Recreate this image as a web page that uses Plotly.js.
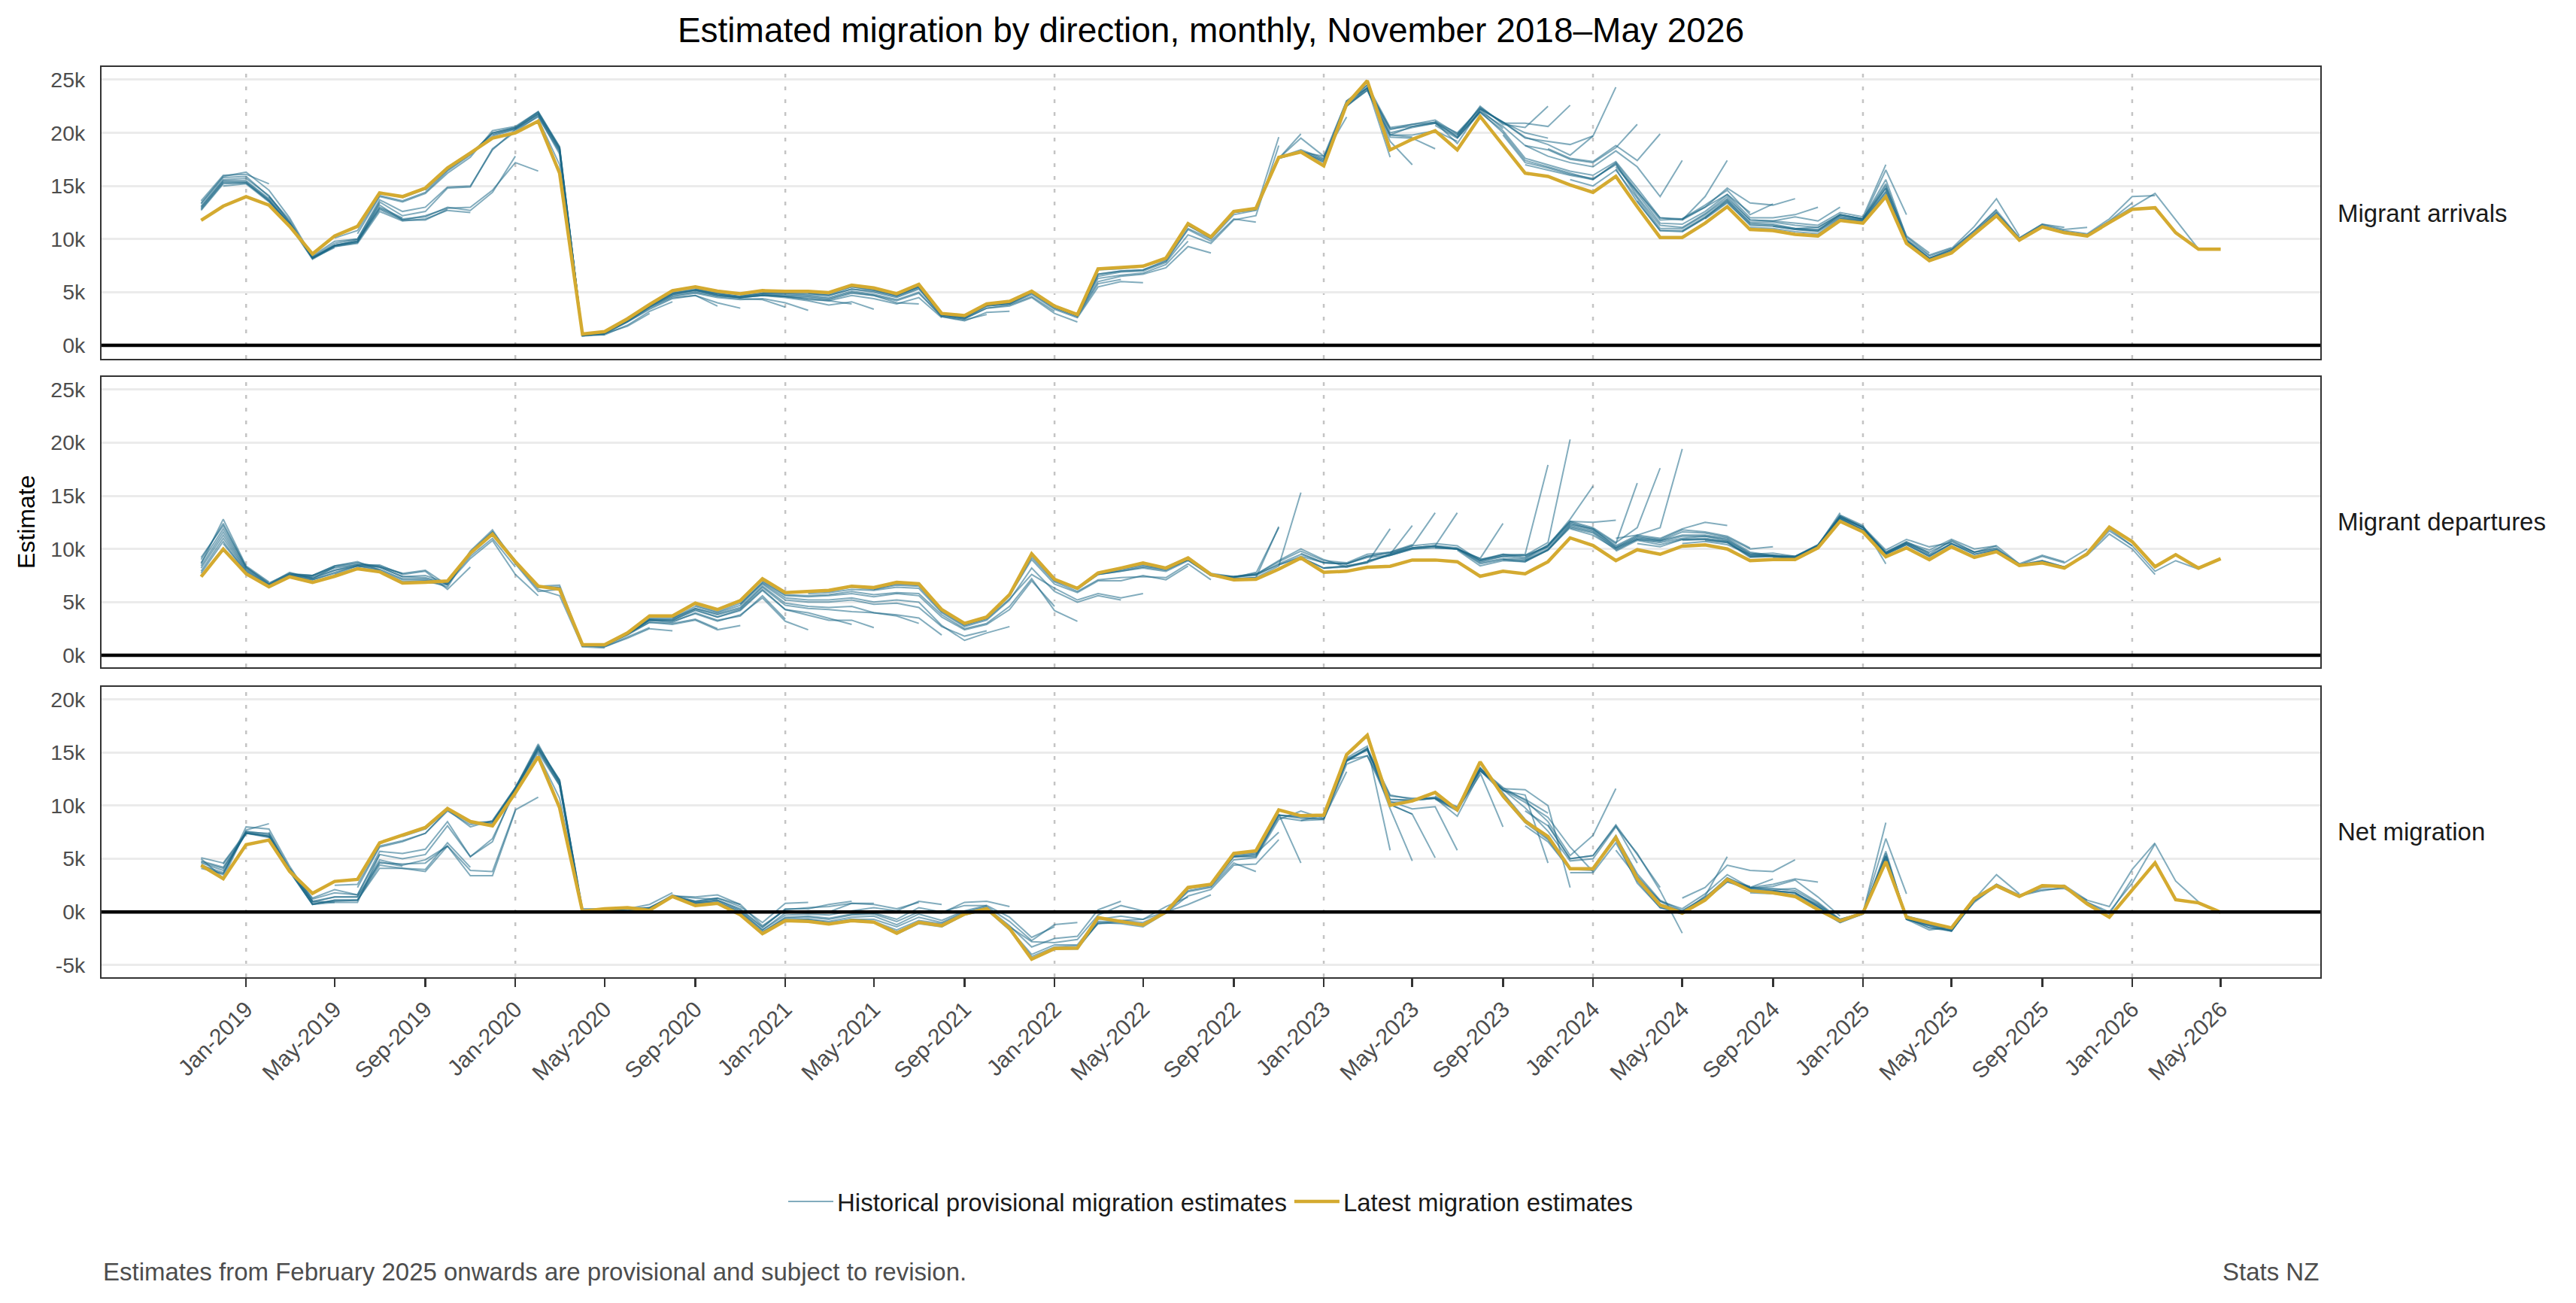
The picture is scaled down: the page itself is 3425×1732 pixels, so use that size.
<!DOCTYPE html>
<html>
<head>
<meta charset="utf-8">
<script src="https://cdn.plot.ly/plotly-3.0.1.min.js"></script>
<style>html,body{margin:0;padding:0;background:#ffffff;}</style>
</head>
<body>
<div id="chart" style="width:3425px;height:1732px;"></div>
<script>
// Monthly series start in November 2018 (index 0) and run to May 2026 (index 90).
const firstMonth = [2018, 11];

// Latest migration estimates (persons per month)
const arrivalsLatest = [
  11760, 13100, 14000, 13200, 11200, 8600, 10300, 11200, 14350, 14000,
  14800, 16700, 18100, 19500, 20000, 21100, 16200, 1060, 1300, 2500,
  3850, 5150, 5500, 5100, 4860, 5150, 5080, 5080, 4960, 5670,
  5400, 4860, 5740, 3000, 2800, 3900, 4150, 5100, 3700, 2900,
  7200, 7300, 7450, 8200, 11450, 10200, 12600, 12900, 17700, 18200,
  16900, 22700, 24900, 18400, 19400, 20200, 18400, 21550, 18800, 16200,
  15900, 15100, 14400, 15900, 13050, 10150, 10150, 11500, 13050, 10900,
  10800, 10450, 10300, 11750, 11500, 14000, 9600, 7970, 8700, 10450,
  12200, 9900, 11150, 10600, 10300, 11550, 12800, 12950, 10600, 9050,
  9050
];
const departuresLatest = [
  7380, 9980, 7670, 6440, 7380, 6860, 7430, 8140, 7850, 6800,
  6860, 6980, 9600, 11400, 8800, 6500, 6200, 1000, 1000, 2100,
  3700, 3700, 4900, 4300, 5140, 7200, 5900, 5970, 6100, 6500,
  6370, 6860, 6720, 4300, 3000, 3600, 5700, 9550, 7150, 6300,
  7740, 8200, 8680, 8200, 9150, 7600, 7100, 7150, 8100, 9150,
  7800, 7900, 8280, 8370, 8960, 8960, 8800, 7430, 7900, 7670,
  8800, 11040, 10330, 8900, 9930, 9500, 10260, 10380, 10000, 8900,
  9000, 9000, 10100, 12600, 11600, 9270, 10100, 9000, 10200, 9200,
  9740, 8440, 8680, 8200, 9550, 12050, 10680, 8330, 9460, 8200,
  9080
];
const netLatest = [
  4380, 3120, 6330, 6760, 3820, 1740, 2870, 3060, 6500, 7200,
  7940, 9720, 8500, 8100, 11200, 14600, 9800, 60, 300, 400,
  150, 1450, 600, 800, -280, -2050, -820, -890, -1140, -830,
  -970, -2000, -980, -1300, -200, 300, -1550, -4450, -3450, -3400,
  -540, -900, -1230, 0, 2300, 2600, 5500, 5750, 9600, 9050,
  9100, 14800, 16620, 10030, 10440, 11240, 9600, 14120, 10900, 8530,
  7100, 4060, 4070, 7000, 3120, 650, -110, 1120, 3050, 2000,
  1800, 1450, 200, -850, -100, 4730, -500, -1030, -1500, 1250,
  2460, 1460, 2470, 2400, 750, -500, 2120, 4620, 1140, 850,
  -30
];

// Historical provisional releases: month index of each release's first value
const vintageStart = [
  0, 0, 0, 0, 1, 4, 7, 10, 13, 16, 19, 22, 25, 28, 31,
  34, 37, 40, 43, 46, 49, 52, 55, 58, 61, 64, 67, 70, 73, 76,
  43, 44, 48, 49, 50, 51, 53, 55, 56, 57, 59, 60, 63, 66, 71,
  0, 0, 0, 0, 3, 6, 9, 12, 15, 18, 21, 24, 27, 30, 33,
  56, 59, 63, 66, 69, 72
];
const arrivalsHistorical = [
  [13600,16000,16100,15200],
  [13300,15800,15900,14000,11800,8200,9200],
  [13000,15500,15500,13800,11500,8300,9400,9800,13000,12000],
  [12700,15200,15300,13600,11300,8100,9300,9600,12600,11700,11900,12700,12500],
  [15000,15200,13500,11400,8200,9400,9900,13200,11800,12200,12900,13000,14600,17200,16400],
  [11500,8400,9800,10000,13700,12600,13000,14900,15000,18400,20300,21800,18300,1100,1000],
  [10500,14000,13500,14300,16200,17700,20200,20600,22000,18700,900,1000,1900,3200,4100],
  [14600,16500,18000,20000,20500,21900,18600,900,1100,2200,3400,4400,4700,4000,3500],
  [19800,20400,21800,18500,950,1150,2300,3600,4600,4900,4500,4300,4400,4000,3300],
  [18300,1000,1200,2300,3700,4800,5100,4700,4500,4700,4500,4200,3800,4100,3400],
  [2400,3800,4900,5200,4800,4500,4800,4600,4400,4200,4700,4400,3900,4500,2600],
  [5300,4900,4600,4900,4800,4700,4500,5100,4800,4300,5000,2700,2300,3100,3200],
  [5000,4900,4900,4700,5300,5000,4500,5300,2800,2500,3500,3700,4500,3000,2200],
  [4900,5500,5200,4700,5500,2900,2600,3700,3900,4800,3400,2600,5500,6000,5900],
  [4700,5600,2900,2700,3800,4000,5000,3600,2800,6000,6500,6700,7300,9300,8700],
  [2800,3800,4100,5000,3700,2900,6500,6900,7000,7800,10400,9600,11800,12200,18800],
  [5000,3600,2800,6700,7000,7100,8000,11000,10000,12300,12700,17600,19500,17800,21500],
  [7100,7200,7400,8100,11300,10100,12500,12800,17600,18200,17400,22500,24000,19800,19600],
  [8200,11400,10200,12600,12900,17700,18300,17500,22800,24500,20000,20500,20900,19600,22000],
  [12600,12900,17700,18400,17600,23000,24200,20300,20800,21200,19900,22200,21000,20000,19500],
  [18200,17800,23000,24500,20500,20800,21000,20000,22300,21000,19600,18900,17900,19700,24300],
  [24300,20400,20600,20900,19800,22000,20600,18800,17800,17200,16800,18300,16800,14000,17400],
  [20700,19500,21900,20200,17600,17000,16400,16000,17300,14800,12000,11900,13000,14200,12500],
  [19800,17200,16700,16100,15700,17000,14300,11500,11400,12600,14200,12000,12000,12300,13000],
  [15600,15000,16500,13800,11000,11000,12300,13800,11800,11700,11500,11300,12500,12100,17000],
  [13600,10800,10800,12100,13600,11600,11600,11300,11100,12300,11900,15600,10200,8500,9200],
  [11900,13400,11400,11300,11000,10900,12200,11900,15200,10000,8400,9100,11200,13800,10300],
  [11200,10900,10700,12000,11800,14800,9900,8200,9000,10800,12700,10100,11400,10900,11100],
  [11900,11700,14500,9800,8100,8800,10600,12500,10000,11300,10800,10500,11900,14000,14100],
  [9700,8100,8800,10500,12300,10000,11200,10700,10400,11700,13000,14300,11800,9050],
  [8300,11300,10100,12500,12800,19600],
  [11300,10200,12600,12900,17600,19900],
  [17600,18200,17200,22800,24300,17700],
  [18200,17300,22700,24200,19200,17000],
  [17200,22600,24000,19600,19500,18500],
  [22500,24200,19800,19800,20200,19200],
  [19800,20600,21000,19000,22200,20400],
  [21100,19600,22500,20800,20500,22500],
  [19800,22400,20900,20900,20600,22600],
  [22300,21000,19500,19200,18900,19700],
  [18800,18400,17500,17200,18600,20800],
  [18500,17600,17300,18800,17400,19900],
  [16800,14500,12000,11800,14000,17400],
  [11800,13000,14800,13400,13200,13800],
  [11000,11100,12300,11900,16500,12300],
  [13400,15900,16300,14600,12000,8300],
  [13100,15600,15700,14100,11600,8200,9300,9700,13400],
  [12900,15400,15400,13700,11400,8200,9400,9700,12800,11800,11800,12800],
  [12800,15300,15300,13600,11400,8200,9400,9800,12900,11900,12100,13000,12700,14400,17800],
  [14000,11600,8300,9600,10000,13500,12200,12600,14800,14900,18500,20100,21600,18000,1000],
  [10100,10800,14100,13600,14400,16400,17900,20000,20500,22000,18600,950,1100,1800,3000],
  [13900,14700,16600,18000,19900,20400,21700,18400,900,1100,2200,3500,4500,4700,3700],
  [18000,19700,20300,21500,18200,950,1200,2300,3600,4700,5000,4600,4400,4300,3600],
  [21300,17000,1000,1200,2400,3700,4800,5200,4700,4500,4700,4600,4300,4200,3900],
  [1200,2400,3700,4900,5200,4800,4500,4700,4600,4500,4300,4900,4700,4000,3900],
  [5000,5300,4900,4600,4800,4700,4600,4400,5000,4700,4200,4900,2700,2400,2900],
  [4700,4900,4900,4800,4700,5300,5100,4600,5400,2800,2500,3500,3800,4600,3200],
  [4900,4800,5500,5200,4700,5500,2900,2600,3700,3900,4900,3500,2700,5800,6200],
  [5300,4800,5600,2900,2700,3800,4000,5000,3600,2800,6300,6600,6800,7600,9800],
  [2900,2700,3800,4000,5000,3600,2800,6700,7000,7100,7900,10900,9800,11900,11600],
  [19500,22000,20000,17400,16800,16200,15600,17200,14500,11800,11900,13200,14600,12300,13300],
  [17000,16500,16000,15600,17100,14000,11300,11100,12400,14000,11800,11700,12100,11700,13000],
  [16600,13500,10800,10700,12000,13700,11500,11400,11000,10800,12300,11900,15000,10300,8700],
  [10700,12000,13500,11300,11200,10900,10800,12100,11800,14800,9900,8200,9000,10800,12800],
  [11100,11000,10700,10500,11900,11700,14400,9800,8200,8900,10600,12500,10100,11400,11100],
  [10400,11800,11600,14200,9700,8000,8700,10500,12300,9900,11200,10700,10400,11700,13400]
];
const departuresHistorical = [
  [8600,12800,8400,6900],
  [9200,12200,8300,6700,7800,7200,8300],
  [8400,11600,8100,6600,7600,7500,8400,8700,8300,7700],
  [7900,11000,7900,6500,7500,7400,8200,8500,8500,7600,7900,6200,8300],
  [10500,7800,6500,7500,7200,8000,8500,8300,7400,7300,6700,9100,10800,7600,5600],
  [7400,7100,7700,8400,8000,7100,7100,6400,9800,11800,8600,6000,6200,800,700],
  [8200,7900,6900,6900,6600,9700,11600,8900,6400,6300,900,800,1600,2500,2300],
  [6800,6900,9600,11500,8800,6500,6400,900,900,1900,3100,2900,3300,2400,2800],
  [11400,8900,6500,6600,950,950,2000,3300,3200,3900,3200,3800,5400,3200,2400],
  [6300,1000,950,2000,3300,3300,4200,3600,4200,6100,4300,3800,3300,3300,2600],
  [2100,3500,3500,4400,3900,4500,6500,4900,4600,4500,4600,4000,3800,3500,1900],
  [4700,4100,4900,6800,5400,5200,5200,5400,5000,5200,5000,2800,1400,2100,2700],
  [7000,5700,5600,5700,6000,5700,5900,5800,3800,2500,3000,4600,7200,4200,3200],
  [6000,6400,6200,6600,6500,4100,2800,3400,5300,7600,6300,5200,5800,5400,5800],
  [6800,6700,4300,2900,3500,5600,9200,6900,6000,7100,7300,7400,7300,8600,7100],
  [3000,3600,5700,9500,7100,6300,7600,7900,8200,7900,8900,7500,7400,7700,12000],
  [9500,7100,6300,7700,8100,8500,8100,9000,7600,7400,7600,8900,10000,9000,8300],
  [7600,8000,8400,8100,9000,7600,7300,7600,8500,9300,8700,8600,9300,9700,10400],
  [8300,9200,7700,7400,7500,8600,9500,8700,8600,9200,9400,10000,10200,10000,9100],
  [7400,7600,8800,9800,8900,8700,9500,9700,10300,10500,10300,8900,9500,9400,10200],
  [9600,8700,8600,9300,9600,10100,10300,10100,8800,9300,9100,10400,12600,12500,12700],
  [8900,9400,10000,10100,10000,8700,9100,9000,10200,12400,11800,10300,11300,12000,19400],
  [10100,10000,8600,9000,8900,10000,12300,11900,10200,11200,10900,11800,11600,11200,10100],
  [9000,8800,9900,12100,11600,10100,11000,10800,11300,11300,11000,9700,9400,9200,10200],
  [11900,11300,10000,10900,10600,11000,11200,10900,9500,9600,9300,10400,13200,12200,8600],
  [10500,10200,10900,11000,10700,9300,9400,9300,10300,13100,12100,9900,10900,10200,10600],
  [10800,10600,9200,9300,9200,10300,13000,12000,9700,10600,9900,10900,10000,10300,8600],
  [9200,9100,10200,12900,11800,9600,10500,9700,10700,9700,10100,8500,9300,8700,10000],
  [12800,11700,9500,10400,9300,10500,9500,9900,8500,8900,8300,9400,11400,10000,7600],
  [10100,9100,10300,9300,9800,8500,8800,8300,9500,11700,10300,7900,8900,8100],
  [8200,9000,7500,7200,7300,12100],
  [9100,7600,7200,7300,8400,15300],
  [8500,9200,8200,8300,8700,11900],
  [9200,8200,8400,8800,9500,12200],
  [8200,8400,8700,9500,10300,13400],
  [8300,8800,9400,10100,10300,13400],
  [9500,10100,10300,10000,9100,12400],
  [10200,10000,9000,9400,9500,17900],
  [10000,8900,9300,9400,10600,20300],
  [9000,9500,9200,10300,12800,15900],
  [9300,10300,12500,11900,10500,16200],
  [10300,12600,12000,10600,12000,17600],
  [11000,11300,11000,11900,12500,12200],
  [10500,10700,10400,9500,9400,8900],
  [9300,10400,13000,12000,9600,10600],
  [9000,12400,8300,6800,7700,7300],
  [8700,11900,8200,6700,7700,7500,8400,8800,8000],
  [8200,11300,8000,6600,7600,7500,8300,8600,8400,7700,8000,6600],
  [7700,10700,7800,6500,7500,7300,8000,8400,8300,7400,7500,6800,9300,11000,8300],
  [6500,7500,7100,7800,8400,8100,7200,7200,6700,9700,11600,8700,6200,5600,800],
  [7600,8200,7900,6900,7000,6900,9700,11500,8900,6400,6300,900,800,1700,2600],
  [6800,6900,6900,9600,11500,8800,6500,6300,900,900,2000,3100,3000,3400,2500],
  [9600,11400,8800,6500,6300,950,950,2000,3300,3100,4000,3300,3700,5600,3400],
  [6500,6300,1000,950,2000,3400,3300,4300,3600,4300,6200,4300,4000,3500,2900],
  [950,2000,3400,3400,4400,3800,4400,6400,4700,4400,4300,4100,4000,3700,3000],
  [3500,4600,4000,4700,6700,5200,5000,5000,5200,4800,4900,4500,2700,1800,2300],
  [4800,6900,5600,5500,5600,5800,5500,5800,5600,3600,2400,2900,4300,7000,4600],
  [5800,5900,6200,6100,6400,6300,4000,2700,3300,5200,8200,6000,5000,5600,5200],
  [6200,6700,6600,4200,2900,3500,5600,9000,6700,5900,7000,7000,7500,7100,8400],
  [4300,3000,3600,5700,9400,7000,6200,7600,7900,8300,8000,9000,7500,7300,7800],
  [9900,8400,8900,8800,9900,12200,11700,10100,11100,10800,11600,11500,11100,10000,10200],
  [8900,9900,12000,11500,9900,10900,10700,11200,11200,10800,9600,9300,9100,10300,13400],
  [9800,10800,10400,10900,10900,10700,9400,9400,9200,10300,13100,12000,9700,10700,9600],
  [10800,10900,10600,9300,9300,9300,10300,13000,12000,9600,10600,9500,10800,9700,10300],
  [9300,9300,9200,10200,12900,11800,9500,10500,9400,10500,9700,10000,8600,9400,8800],
  [10200,12800,11800,9500,10400,9300,10500,9500,9900,8500,8900,8300,9500,11900,10300]
];

// Panel labels and axis ticks
const panelNames = ['Migrant arrivals', 'Migrant departures', 'Net migration'];
const yTickValsUpper = [0, 5000, 10000, 15000, 20000, 25000];
const yTickTextUpper = ['0k', '5k', '10k', '15k', '20k', '25k'];
const yTickValsNet = [-5000, 0, 5000, 10000, 15000, 20000];
const yTickTextNet = ['-5k', '0k', '5k', '10k', '15k', '20k'];
const gridYears = [2019, 2020, 2021, 2022, 2023, 2024, 2025, 2026];

function monthDate(i) {
  const m = firstMonth[1] - 1 + i;
  const y = firstMonth[0] + Math.floor(m / 12);
  const mm = (m % 12) + 1;
  return y + '-' + String(mm).padStart(2, '0') + '-01';
}
const months = arrivalsLatest.map((_, i) => monthDate(i));

// x tick positions: every fourth month from January 2019 to May 2026
const xTicks = [];
for (let y = 2019; y <= 2026; y++) {
  for (const m of ['01', '05', '09']) {
    const d = y + '-' + m + '-01';
    if (d <= months[months.length - 1]) xTicks.push(d);
  }
}

const HIST_COLOR = 'rgba(27,104,134,0.55)';
const LATEST_COLOR = '#d4aa30';
const axesPairs = [['x', 'y'], ['x2', 'y2'], ['x3', 'y3']];

const traces = [];
// historical releases, all three panels
vintageStart.forEach((start, v) => {
  const arr = arrivalsHistorical[v];
  const dep = departuresHistorical[v];
  const xs = arr.map((_, k) => months[start + k]);
  const net = arr.map((a, k) => a - dep[k]);
  [arr, dep, net].forEach((ys, p) => {
    traces.push({
      type: 'scatter', mode: 'lines', x: xs, y: ys,
      xaxis: axesPairs[p][0], yaxis: axesPairs[p][1],
      line: {color: HIST_COLOR, width: 2},
      name: 'Historical provisional migration estimates',
      legendgroup: 'hist',
      showlegend: v === 0 && p === 0,
      hoverinfo: 'skip'
    });
  });
});
// latest estimates on top
[arrivalsLatest, departuresLatest, netLatest].forEach((ys, p) => {
  traces.push({
    type: 'scatter', mode: 'lines', x: months, y: ys,
    xaxis: axesPairs[p][0], yaxis: axesPairs[p][1],
    line: {color: LATEST_COLOR, width: 4.5},
    name: 'Latest migration estimates',
    legendgroup: 'latest',
    showlegend: p === 0,
    hoverinfo: 'skip'
  });
});

const W = 3425, H = 1732;
const plotLeft = 135, plotRight = 3085;
const panelPx = [[89, 477], [500.7, 887], [912.7, 1299]];
const yRanges = [[-1270, 26200], [-1130, 26200], [-6150, 21200]];
const xDomain = [plotLeft / W, plotRight / W];
const xRange = ['2018-06-19', '2026-09-13'];
const FONT = 'Liberation Sans, Arial, Helvetica, sans-serif';

const layout = {
  width: W, height: H,
  margin: {l: 0, r: 0, t: 0, b: 0},
  paper_bgcolor: '#ffffff', plot_bgcolor: '#ffffff',
  font: {family: FONT, color: '#1a1a1a'},
  title: {
    text: 'Estimated migration by direction, monthly, November 2018\u2013May 2026',
    x: (plotLeft + plotRight) / 2 / W, xanchor: 'center', xref: 'paper',
    y: 1 - 40 / H, yanchor: 'middle', yref: 'container',
    font: {family: FONT, size: 46, color: '#000000'}
  },
  showlegend: true,
  legend: {
    orientation: 'h', x: (plotLeft + plotRight) / 2 / W, xanchor: 'center',
    y: 1 - 1597 / H, yanchor: 'middle',
    font: {family: FONT, size: 33, color: '#1a1a1a'},
    bgcolor: 'rgba(0,0,0,0)', itemwidth: 60, traceorder: 'normal'
  },
  shapes: [],
  annotations: []
};

panelPx.forEach((px, p) => {
  const sfx = p === 0 ? '' : String(p + 1);
  const dom = [1 - px[1] / H, 1 - px[0] / H];
  const isBottom = p === 2;
  layout['xaxis' + sfx] = {
    type: 'date', range: xRange, domain: xDomain, anchor: 'y' + sfx,
    matches: p === 0 ? undefined : 'x',
    showgrid: false, zeroline: false,
    showline: true, mirror: true, linecolor: '#333333', linewidth: 2,
    tickmode: 'array', tickvals: xTicks, tickformat: '%b-%Y',
    showticklabels: isBottom,
    ticks: isBottom ? 'outside' : '', ticklen: 11, tickwidth: 2.5, tickcolor: '#333333',
    tickangle: -45,
    tickfont: {family: FONT, size: 30, color: '#4d4d4d'}
  };
  layout['yaxis' + sfx] = {
    domain: dom, range: yRanges[p], anchor: 'x' + sfx,
    tickmode: 'array',
    tickvals: isBottom ? yTickValsNet : yTickValsUpper,
    ticktext: isBottom ? yTickTextNet : yTickTextUpper,
    showgrid: true, gridcolor: '#ebebeb', gridwidth: 3,
    zeroline: false, showline: true, mirror: true, linecolor: '#333333', linewidth: 2,
    ticks: '', ticklabelstandoff: 14,
    tickfont: {family: FONT, size: 28.5, color: '#4d4d4d'}
  };
  // dotted January reference lines
  gridYears.forEach(yr => {
    layout.shapes.push({
      type: 'line', layer: 'below',
      xref: 'x' + sfx, yref: 'y' + sfx + ' domain',
      x0: yr + '-01-01', x1: yr + '-01-01', y0: 0, y1: 1,
      line: {color: '#c4c4c4', width: 2.5, dash: '5px,12px'}
    });
  });
  // zero line
  layout.shapes.push({
    type: 'line', layer: 'above',
    xref: 'x' + sfx + ' domain', yref: 'y' + sfx,
    x0: 0, x1: 1, y0: 0, y1: 0,
    line: {color: '#000000', width: 4.5}
  });
  // panel label on the right
  layout.annotations.push({
    text: panelNames[p], xref: 'paper', yref: 'paper',
    x: 3106 / W, xanchor: 'left', y: 1 - (px[0] + px[1]) / 2 / H, yanchor: 'middle',
    showarrow: false, font: {family: FONT, size: 33, color: '#1a1a1a'}
  });
});

layout.annotations.push({
  text: 'Estimate', textangle: -90, xref: 'paper', yref: 'paper',
  x: 35 / W, xanchor: 'center', y: 1 - 694 / H, yanchor: 'middle',
  showarrow: false, font: {family: FONT, size: 32, color: '#000000'}
});
layout.annotations.push({
  text: 'Estimates from February 2025 onwards are provisional and subject to revision.',
  xref: 'paper', yref: 'paper', x: plotLeft / W, xanchor: 'left',
  y: 1 - 1690 / H, yanchor: 'middle', showarrow: false,
  font: {family: FONT, size: 33, color: '#4d4d4d'}
});
layout.annotations.push({
  text: 'Stats NZ', xref: 'paper', yref: 'paper', x: plotRight / W, xanchor: 'right',
  y: 1 - 1690 / H, yanchor: 'middle', showarrow: false,
  font: {family: FONT, size: 33, color: '#4d4d4d'}
});

Plotly.newPlot('chart', traces, layout, {displayModeBar: false, staticPlot: true});
</script>
</body>
</html>
